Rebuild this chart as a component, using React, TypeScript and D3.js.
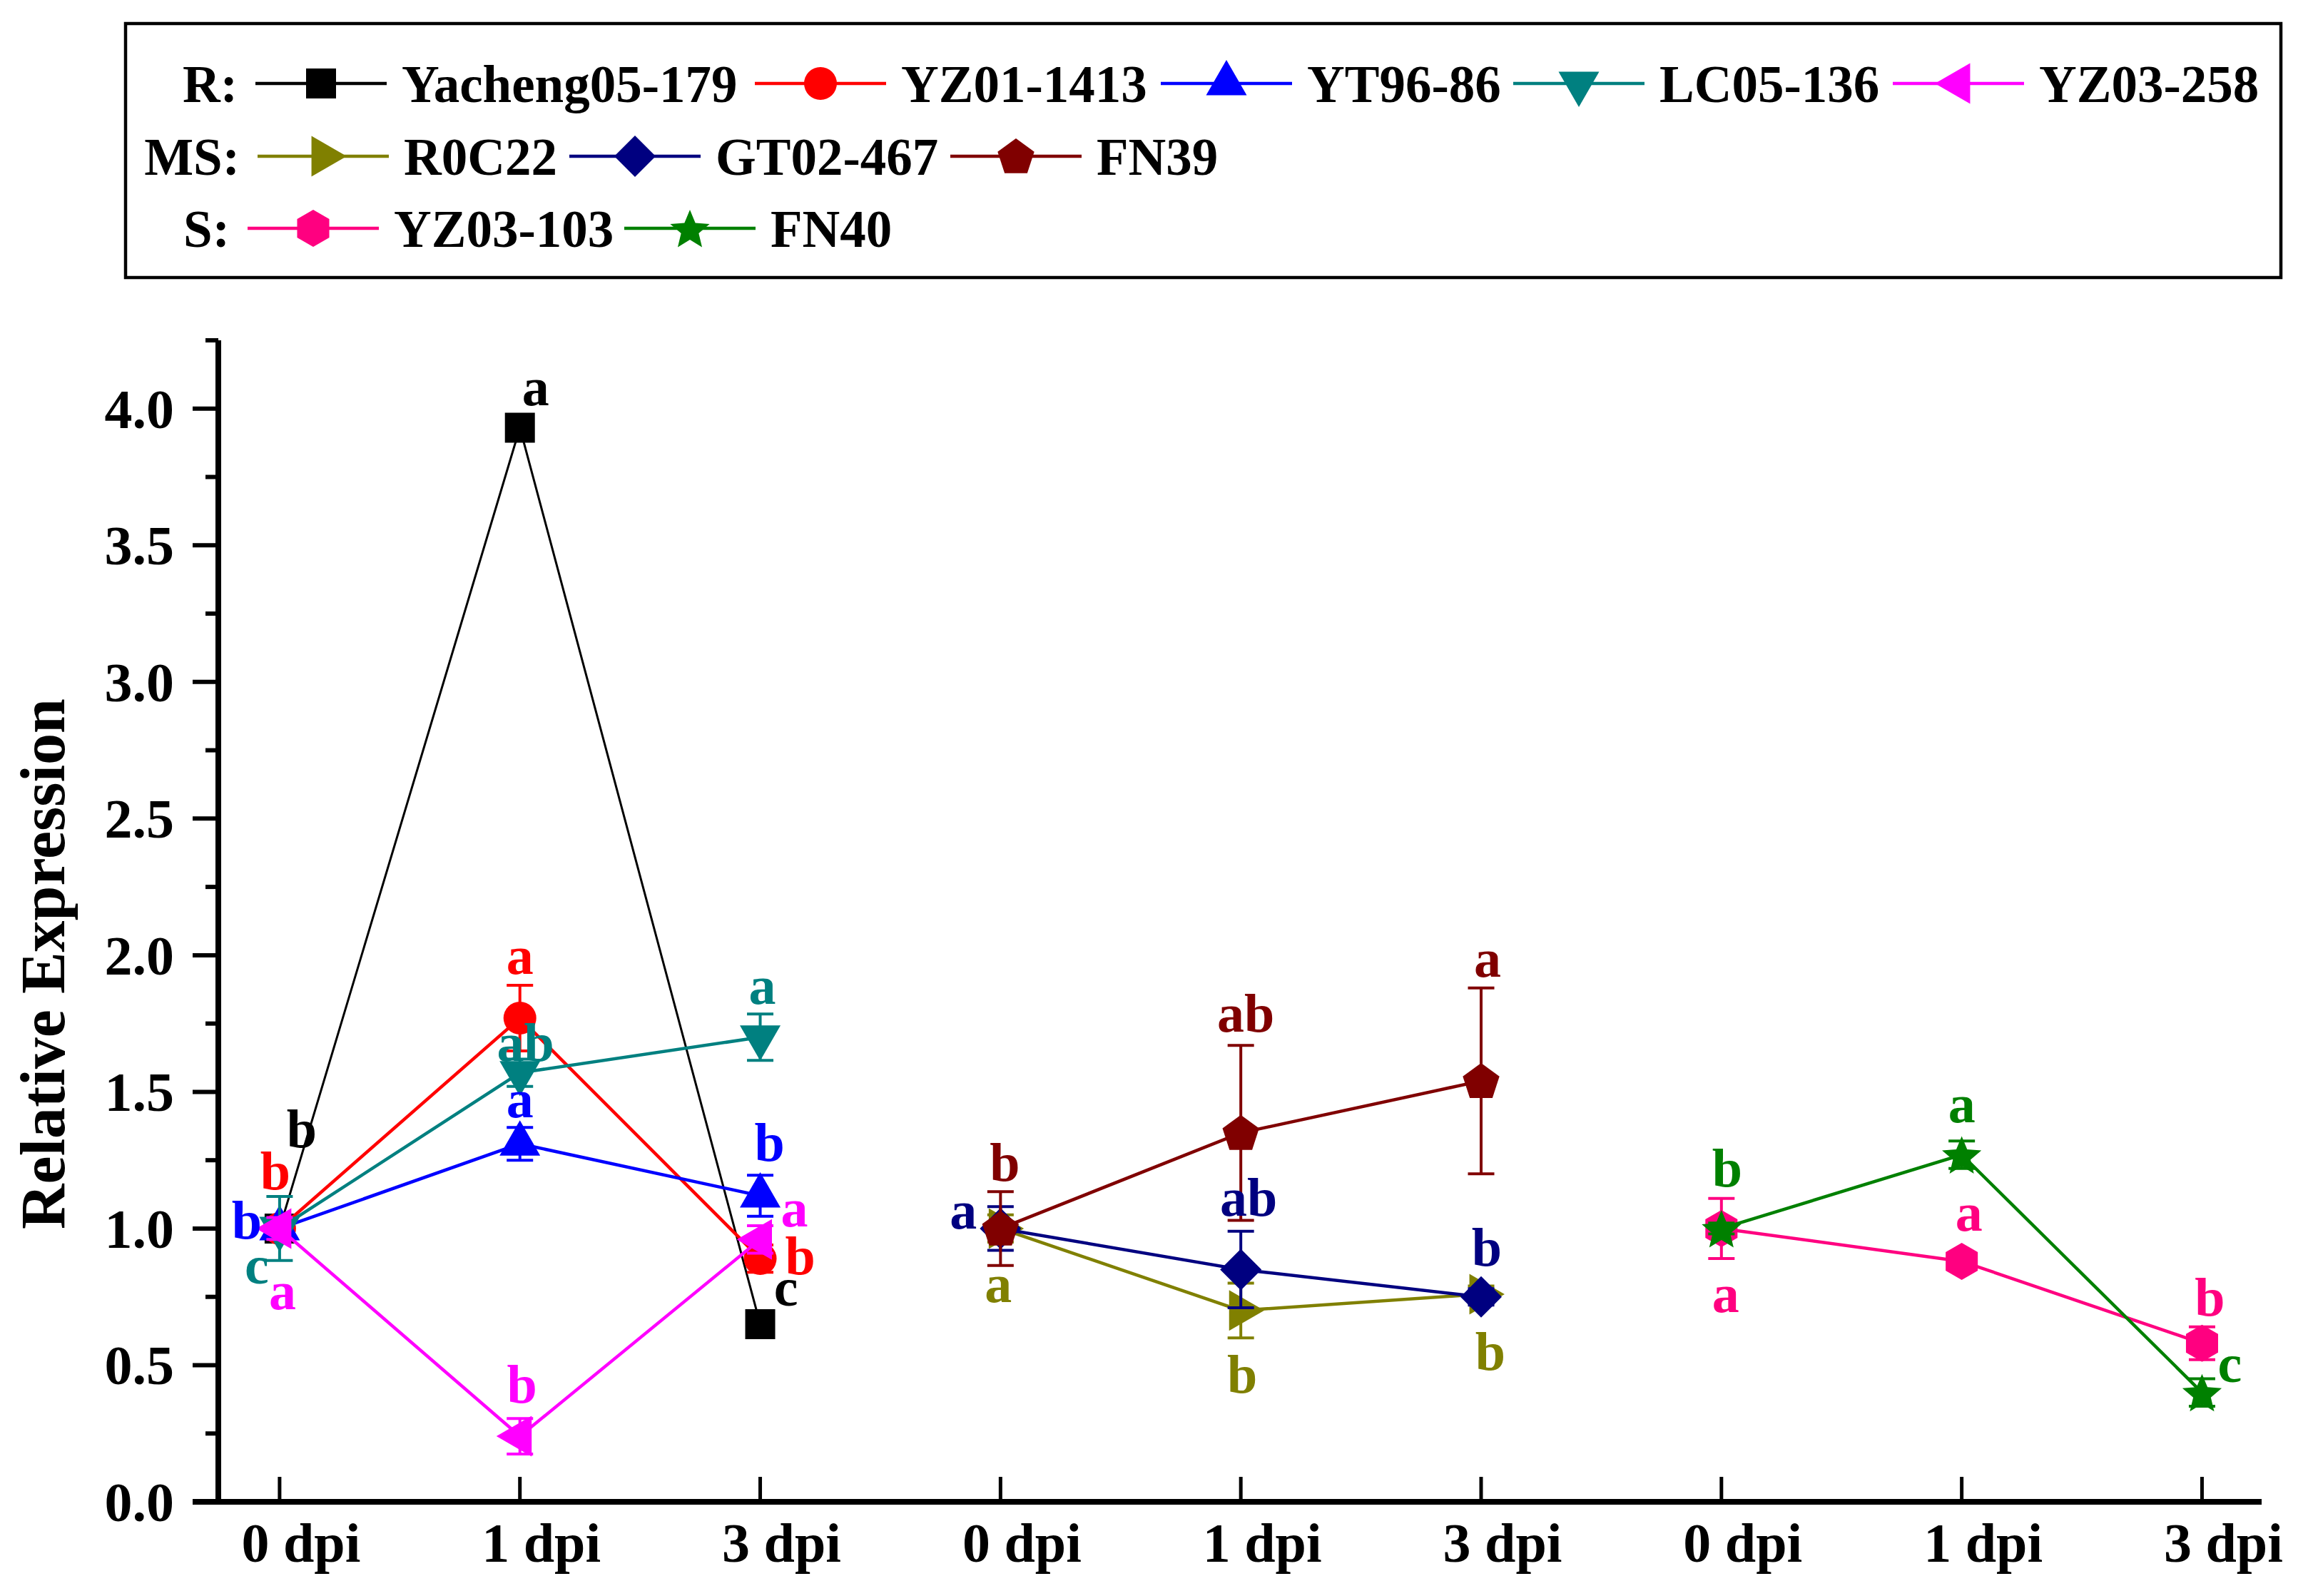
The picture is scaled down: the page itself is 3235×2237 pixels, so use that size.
import React, { useEffect } from "react";
import * as d3 from "d3";

// sampling days, one set per resistance group
const timePoints = ["0 dpi", "1 dpi", "3 dpi"];
const groupNames = ["R:", "MS:", "S:"];

const cultivars = [
  "Yacheng05-179",
  "YZ01-1413",
  "YT96-86",
  "LC05-136",
  "YZ03-258",
  "R0C22",
  "GT02-467",
  "FN39",
  "YZ03-103",
  "FN40",
];
// 0 = R, 1 = MS, 2 = S
const cultivarGroup = [0, 0, 0, 0, 0, 1, 1, 1, 2, 2];

// relative expression at 0, 1, 3 dpi
const means = [
  [1.0, 3.93, 0.65],
  [1.0, 1.77, 0.89],
  [1.0, 1.31, 1.12],
  [1.0, 1.57, 1.7],
  [1.0, 0.24, 0.96],
  [1.0, 0.7, 0.76],
  [1.0, 0.85, 0.75],
  [1.0, 1.35, 1.54],
  [1.0, 0.88, 0.58],
  [1.0, 1.27, 0.4],
];
const errors = [
  [0.02, 0.03, 0.02],
  [0.03, 0.12, 0.05],
  [0.03, 0.06, 0.075],
  [0.117, 0.05, 0.085],
  [0.04, 0.065, 0.05],
  [0.05, 0.1, 0.03],
  [0.08, 0.14, 0.03],
  [0.135, 0.32, 0.34],
  [0.11, 0.02, 0.06],
  [0.02, 0.05, 0.05],
];
const letters = [
  ["b", "a", "c"],
  ["b", "a", "b"],
  ["b", "a", "b"],
  ["c", "ab", "a"],
  ["a", "b", "a"],
  ["a", "b", "b"],
  ["a", "ab", "b"],
  ["b", "ab", "a"],
  ["a", "a", "b"],
  ["b", "a", "c"],
];

const yTicks = [0, 0.5, 1.0, 1.5, 2.0, 2.5, 3.0, 3.5, 4.0];
const yMinorTicks = [0.25, 0.75, 1.25, 1.75, 2.25, 2.75, 3.25, 3.75, 4.25];

// styles
const colors = [
  "#000000",
  "#FF0000",
  "#0000FF",
  "#008080",
  "#FF00FF",
  "#808000",
  "#000080",
  "#800000",
  "#FF0080",
  "#008000",
];
const shapes = [
  "square",
  "circle",
  "triangleUp",
  "triangleDown",
  "triangleLeft",
  "triangleRight",
  "diamond",
  "pentagon",
  "hexagon",
  "star",
];

// letter placement relative to the point (px)
const labelOffsets = [
  [[31, -114], [22, -32], [36, -26]],
  [[-6, -55], [0, -62], [56, 22]],
  [[-46, 14], [0, -37], [13, -49]],
  [[-32, 77], [8, -17], [3, -47]],
  [[4, 113], [3, -47], [48, -18]],
  [[-3, 103], [2, 115], [13, 106]],
  [[-52, 0], [11, -75], [8, -44]],
  [[6, -67], [7, -142], [9, -146]],
  [[6, 117], [10, -43], [11, -39]],
  [[8, -59], [0, -46], [39, -15]],
];

// legend layout: line start x per item, per row
const legendRowsY = [117, 219, 320];
const legendLineStarts = [
  [358, 1058, 1627, 2121, 2653],
  [361, 798, 1332],
  [347, 875],
];

const W = 3235;
const H = 2237;
const FONT = "'Liberation Serif', 'Times New Roman', serif";

const x = d3.scaleLinear().domain([-0.255, 8.248]).range([306, 3170]);
const y = d3.scaleLinear().domain([0, 4.25]).range([2105, 477]);

function polygon(pts: [number, number][]) {
  const p = d3.path();
  pts.forEach(([px, py], i) => (i === 0 ? p.moveTo(px, py) : p.lineTo(px, py)));
  p.closePath();
  return p.toString();
}

function markerPath(shape: string): string {
  const tri = 57;
  const h = (tri * Math.sqrt(3)) / 2;
  const a = (2 * h) / 3;
  const b = h / 3;
  const hb = tri / 2;
  switch (shape) {
    case "square":
      return polygon([[-21, -21], [21, -21], [21, 21], [-21, 21]]);
    case "circle": {
      const p = d3.path();
      p.arc(0, 0, 23, 0, Math.PI * 2);
      p.closePath();
      return p.toString();
    }
    case "triangleUp":
      return polygon([[0, -a], [hb, b], [-hb, b]]);
    case "triangleDown":
      return polygon([[0, a], [hb, -b], [-hb, -b]]);
    case "triangleLeft":
      return polygon([[-a, 0], [b, -hb], [b, hb]]);
    case "triangleRight":
      return polygon([[a, 0], [-b, -hb], [-b, hb]]);
    case "diamond":
      return polygon([[0, -29], [29, 0], [0, 29], [-29, 0]]);
    case "pentagon":
      return polygon(
        d3.range(5).map((k) => {
          const t = -Math.PI / 2 + (k * 2 * Math.PI) / 5;
          return [27 * Math.cos(t), 27 * Math.sin(t) + 2] as [number, number];
        })
      );
    case "hexagon":
      return polygon(
        d3.range(6).map((k) => {
          const t = -Math.PI / 2 + (k * Math.PI) / 3;
          return [26 * Math.cos(t), 26 * Math.sin(t)] as [number, number];
        })
      );
    case "star":
      return polygon(
        d3.range(10).map((k) => {
          const t = -Math.PI / 2 + (k * Math.PI) / 5;
          const r = k % 2 === 0 ? 29 : 13;
          return [r * Math.cos(t), r * Math.sin(t) + 3] as [number, number];
        })
      );
  }
  return "";
}

const line = d3
  .line<[number, number]>()
  .x((d) => d[0])
  .y((d) => d[1]);

function pointX(series: number, t: number) {
  return x(cultivarGroup[series] * 3 + t);
}

const App: React.FC = () => {
  useEffect(() => {
    document.body.style.margin = "0";
  }, []);

  const capHalf = 18.5;

  return (
    <svg
      width={W}
      height={H}
      viewBox={`0 0 ${W} ${H}`}
      style={{ display: "block", background: "#fff", fontFamily: FONT, fontWeight: "bold" }}
    >
      {/* legend */}
      <rect x={176} y={33} width={3021} height={356} fill="none" stroke="#000" strokeWidth={4.5} />
      {legendLineStarts.map((row, r) => {
        const members = cultivars.map((_, i) => i).filter((i) => cultivarGroup[i] === r);
        const ly = legendRowsY[r];
        return (
          <g key={"lg" + r}>
            <text x={row[0] - 25} y={ly + 26} fontSize={73} textAnchor="end">
              {groupNames[r]}
            </text>
            {members.map((s, j) => (
              <g key={s}>
                <line x1={row[j]} x2={row[j] + 184} y1={ly} y2={ly} stroke={colors[s]} strokeWidth={4.5} />
                <path d={markerPath(shapes[s])} transform={`translate(${row[j] + 92},${ly})`} fill={colors[s]} />
                <text x={row[j] + 205} y={ly + 26} fontSize={73}>
                  {cultivars[s]}
                </text>
              </g>
            ))}
          </g>
        );
      })}

      {/* series */}
      {means.map((vals, s) => {
        const pts = vals.map((v, t) => [pointX(s, t), y(v)] as [number, number]);
        return (
          <g key={"s" + s}>
            <path d={line(pts) || ""} fill="none" stroke={colors[s]} strokeWidth={s === 0 ? 3 : 4.5} />
            {vals.map((v, t) => {
              const px = pointX(s, t);
              const top = y(v + errors[s][t]);
              const bot = y(v - errors[s][t]);
              return (
                <g key={"e" + t} stroke={colors[s]} strokeWidth={4}>
                  <line x1={px} x2={px} y1={top} y2={bot} />
                  <line x1={px - capHalf} x2={px + capHalf} y1={top} y2={top} />
                  <line x1={px - capHalf} x2={px + capHalf} y1={bot} y2={bot} />
                </g>
              );
            })}
            {pts.map((p, t) => (
              <path key={"m" + t} d={markerPath(shapes[s])} transform={`translate(${p[0]},${p[1]})`} fill={colors[s]} />
            ))}
          </g>
        );
      })}

      {/* significance letters */}
      {letters.map((row, s) =>
        row.map((l, t) => (
          <text
            key={`l${s}-${t}`}
            x={pointX(s, t) + labelOffsets[s][t][0]}
            y={y(means[s][t]) + labelOffsets[s][t][1]}
            fontSize={76}
            textAnchor="middle"
            fill={colors[s]}
          >
            {l}
          </text>
        ))
      )}

      {/* axes */}
      <line x1={306} x2={306} y1={y(4.25)} y2={2109} stroke="#000" strokeWidth={8} />
      <line x1={270} x2={3170} y1={2105} y2={2105} stroke="#000" strokeWidth={8} />
      {yTicks.map((v) => (
        <g key={"yt" + v}>
          <line x1={270} x2={306} y1={y(v)} y2={y(v)} stroke="#000" strokeWidth={6} />
          <text x={244} y={y(v) + 27} fontSize={78} textAnchor="end">
            {v.toFixed(1)}
          </text>
        </g>
      ))}
      {yMinorTicks.map((v) => (
        <line key={"ym" + v} x1={288} x2={306} y1={y(v)} y2={y(v)} stroke="#000" strokeWidth={6} />
      ))}
      {d3.range(9).map((i) => (
        <g key={"xt" + i}>
          <line x1={x(i)} x2={x(i)} y1={2105} y2={2070} stroke="#000" strokeWidth={5} />
          <text x={x(i) + 30} y={2189} fontSize={78} textAnchor="middle">
            {timePoints[i % 3]}
          </text>
        </g>
      ))}
      <text
        transform={`translate(90,1351) rotate(-90)`}
        fontSize={88}
        textAnchor="middle"
      >
        Relative Expression
      </text>
    </svg>
  );
};

export default App;
